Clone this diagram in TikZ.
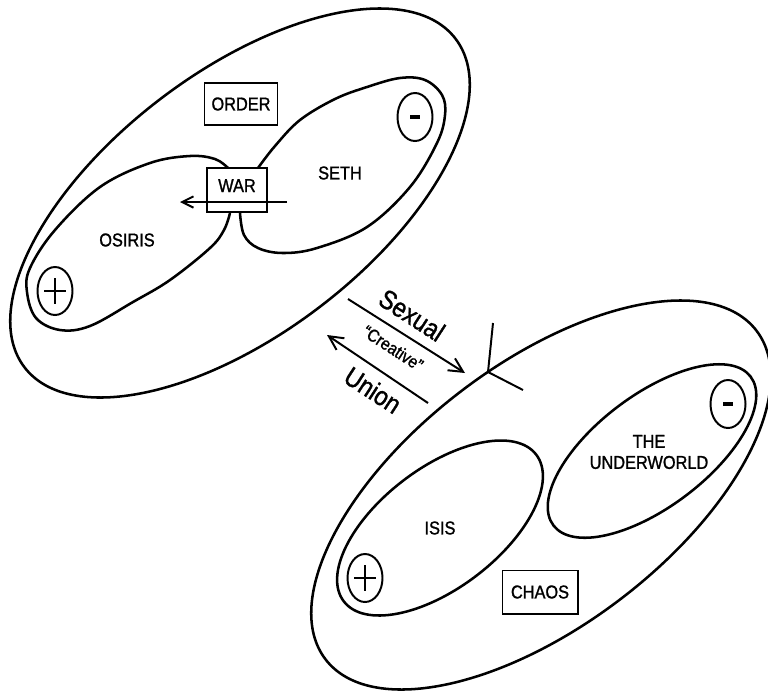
\documentclass[tikz,border=0pt]{standalone}
\usepackage{fontspec}
\setmainfont{Liberation Sans}[FakeStretch=0.88, FakeBold=1.2]
\usetikzlibrary{shapes.geometric,arrows.meta}

\tikzset{
  loop line/.style = {line width=1.8pt},
  tag/.style = {draw, line width=1.4pt, inner sep=0pt, font=\fontsize{13.2}{15}\selectfont},
  deity/.style = {font=\fontsize{13.2}{15}\selectfont, align=center},
  charge/.style = {ellipse, draw, line width=1.4pt, minimum width=0.875cm, minimum height=1.2cm, inner sep=0pt},
  flow/.style = {line width=1.4pt, -{Straight Barb[length=10pt,width=10pt]}},
  big text/.style = {font=\fontsize{19}{22}\selectfont, inner sep=0pt},
}

\begin{document}
\begin{tikzpicture}[x=0.025cm, y=-0.025cm]
  \useasboundingbox (0,0) rectangle (768,693);

  % order side
  \draw[loop line, rotate around={37.3:(240,203)}] (240,203) ellipse [x radius=271, y radius=131];
  \draw[loop line] plot[smooth, tension=0.6] coordinates {(228,168) (215,159) (190,156) (150,163) (100,187) (55,230) (30,268) (27,292) (36,318) (60,330) (90,326) (133,302) (170,280) (210,248) (224,230) (230,213)};
  \draw[loop line] plot[smooth, tension=0.6] coordinates {(258,168) (275,146) (300,120) (335,99) (367,87) (400,78) (425,80) (442,95) (445,115) (437,143) (410,187) (367,227) (317,248) (283,253) (258,248) (244,235) (240,213)};

  \node[tag, minimum width=1.825cm, minimum height=1.05cm] (order) at (241,104) {ORDER};
  \node[tag, minimum width=1.5cm, text height=0.5cm, text depth=0.4cm, inner ysep=0.1cm, anchor=base] (war) at (237,192) {WAR};
  \node[deity] (seth) at (340,173) {SETH};
  \node[deity] (osiris) at (127,240) {OSIRIS};

  \coordinate (warfrom) at (287,202);
  \coordinate (warto) at (180,202);
  \draw[flow, -{Straight Barb[length=8pt,width=8pt]}] (warfrom) -- (warto);

  \node[charge] (plusorder) at (55,291) {};
  \node[charge] (minusorder) at (415,117) {};
  \draw[line width=1.4pt] (plusorder.center) ++(-11,0) -- ++(22,0) (plusorder.center) ++(0,-13) -- ++(0,26);
  \draw[line width=3.5pt] (minusorder.center) ++(-5,0) -- ++(10,0);

  % chaos side
  \draw[loop line, rotate around={37.3:(541,495)}] (541,495) ellipse [x radius=271, y radius=131];
  \draw[loop line, rotate around={37.3:(440,528)}] (440,528) ellipse [x radius=121, y radius=60];
  \draw[loop line, rotate around={37:(652,451)}] (652,451) ellipse [x radius=123.5, y radius=56];

  \node[deity] (isis) at (440,528) {ISIS};
  \node[deity] (underworld) at (649,452) {THE\\UNDERWORLD};
  \node[tag, minimum width=1.875cm, minimum height=1.075cm] (chaos) at (540,592) {CHAOS};

  \node[charge] (pluschaos) at (365,578) {};
  \node[charge] (minuschaos) at (728,404) {};
  \draw[line width=1.4pt] (pluschaos.center) ++(-11,0) -- ++(22,0) (pluschaos.center) ++(0,-13) -- ++(0,26);
  \draw[line width=3.5pt] (minuschaos.center) ++(-5,0) -- ++(10,0);

  % union
  \coordinate (sexfrom) at (348,299);
  \coordinate (sexto) at (465,373);
  \coordinate (unfrom) at (428,403);
  \coordinate (unto) at (327,335);
  \draw[flow] (sexfrom) -- (sexto);
  \draw[flow] (unfrom) -- (unto);
  \node[big text, rotate=-33] (sexual) at (412,315) {Sexual};
  \node[font=\fontsize{12.5}{14}\selectfont, inner sep=0pt, rotate=-33] (creative) at (393,348) {“Creative”};
  \node[big text, rotate=-33] (union) at (373,390) {Union};

  \coordinate (contact) at (488,372);
  \coordinate (sparkup) at (493,323);
  \coordinate (sparkdown) at (523,390);
  \draw[line width=1.4pt] (sparkup) -- (contact) -- (sparkdown);
\end{tikzpicture}
\end{document}
